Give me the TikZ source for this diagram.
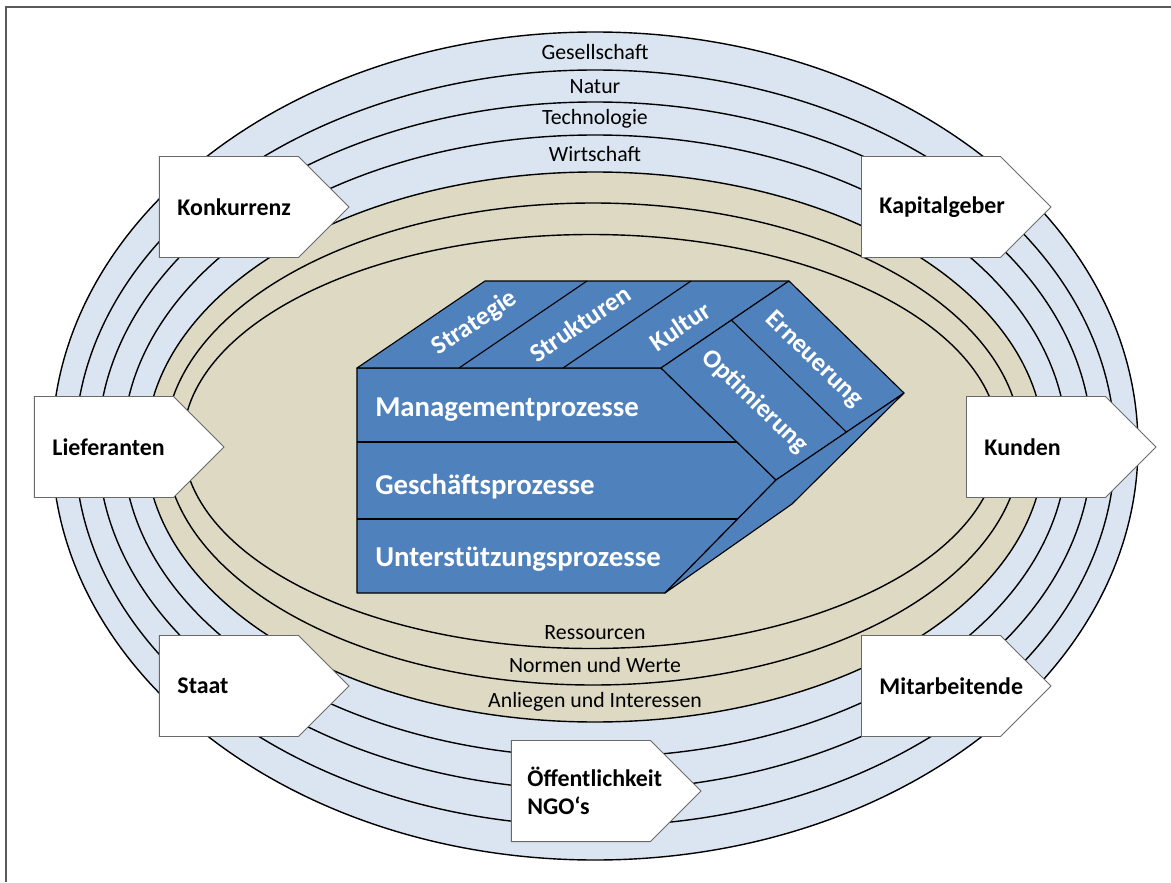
\PassOptionsToPackage{svgnames}{xcolor}
\documentclass[tikz,border=0pt]{standalone}
\usepackage{fontspec}
\setmainfont{Carlito}
\usepackage{tikz}
\usetikzlibrary{shapes.symbols}
\definecolor{RingBlue}{HTML}{DBE5F1}
\definecolor{RingTan}{HTML}{DDD9C3}
\definecolor{BlockBlue}{HTML}{4F81BD}
\definecolor{RimGrey}{HTML}{5A5A5A}
\pgfdeclarelayer{edgelayer}
\pgfdeclarelayer{nodelayer}
\pgfsetlayers{edgelayer,nodelayer,main}
\tikzstyle{none}=[inner sep=0pt]
\tikzstyle{bluering}=[fill=RingBlue,draw=Black,line width=1pt]
\tikzstyle{tanring}=[fill=RingTan,draw=Black,line width=1pt]
\tikzstyle{face}=[fill=BlockBlue,draw=Black,line width=0.8pt,line join=round]
\tikzstyle{simple}=[-,draw=Black,line width=0.8pt]
\tikzstyle{frame}=[-,draw=RimGrey,line width=1.4pt]
\tikzstyle{ringlabel}=[inner sep=0pt,text=Black,font=\fontsize{15.5}{18}\selectfont]
\tikzstyle{rowlabel}=[inner sep=0pt,anchor=west,text=White,font=\fontsize{20.5}{24}\selectfont\bfseries]
\tikzstyle{toplabel}=[inner sep=0pt,text=White,font=\fontsize{18.5}{22}\selectfont\bfseries]
\tikzstyle{actor}=[signal,signal to=east,signal pointer angle=90,fill=White,draw=DimGray,line width=0.7pt,minimum height=2.525cm,text width=2.575cm,inner xsep=0.45cm,inner ysep=0pt,align=left,anchor=west,font=\fontsize{17}{20}\selectfont\bfseries]

\begin{document}
\begin{tikzpicture}
	\useasboundingbox (-14.875,11.15) rectangle (14.4,-10.9);
	\begin{pgfonlayer}{nodelayer}
		\node [style=none] (0) at (-5.95, 1.95) {};
		\node [style=none] (1) at (1.65, 1.95) {};
		\node [style=none] (2) at (4.525, -0.85) {};
		\node [style=none] (3) at (1.75, -3.675) {};
		\node [style=none] (4) at (-5.95, -3.675) {};
		\node [style=none] (5) at (-2.75, 4.125) {};
		\node [style=none] (6) at (4.85, 4.125) {};
		\node [style=none] (7) at (7.725, 1.325) {};
		\node [style=none] (8) at (4.925, -1.45) {};
		\node [style=none] (9) at (-3.4, 1.95) {};
		\node [style=none] (10) at (-0.2, 4.125) {};
		\node [style=none] (11) at (-0.8, 1.95) {};
		\node [style=none] (12) at (2.4, 4.125) {};
		\node [style=none] (13) at (3.41, 3.146) {};
		\node [style=none] (14) at (6.285, 0.346) {};
		\node [style=none] (15) at (-5.95, 0.1) {};
		\node [style=none] (16) at (3.55, 0.1) {};
		\node [style=none] (17) at (-5.95, -1.825) {};
		\node [style=none] (18) at (3.567, -1.825) {};
		\node [style=none] (19) at (-14.725, -10.9) {};
		\node [style=none] (20) at (-14.725, 10.975) {};
		\node [style=none] (21) at (14.4, 10.975) {};
		\node [style=ringlabel] (22) at (0, 9.85) {Gesellschaft};
		\node [style=ringlabel] (23) at (0, 8.975) {Natur};
		\node [style=ringlabel] (24) at (0, 8.175) {Technologie};
		\node [style=ringlabel] (25) at (0, 7.3) {Wirtschaft};
		\node [style=ringlabel] (26) at (0, -4.675) {Ressourcen};
		\node [style=ringlabel] (27) at (0, -5.475) {Normen und Werte};
		\node [style=ringlabel] (28) at (0, -6.4) {Anliegen und Interessen};
		\node [style=rowlabel] (29) at (-5.5, 0.9) {Managementprozesse};
		\node [style=rowlabel] (30) at (-5.5, -1.02) {Geschäftsprozesse};
		\node [style=rowlabel] (31) at (-5.5, -2.83) {Unterstützungsprozesse};
		\node [style=toplabel, rotate=34] (32) at (-3.0, 3.07) {Strategie};
		\node [style=toplabel, rotate=34] (33) at (-0.375, 3.07) {Strukturen};
		\node [style=toplabel, rotate=34] (34) at (2.125, 3.0) {Kultur};
		\node [style=toplabel, rotate=-44] (35) at (4.0, 1.11) {Optimierung};
		\node [style=toplabel, rotate=-44] (36) at (5.475, 2.15) {Erneuerung};
		\node [style=actor] (37) at (-10.9, 5.975) {Konkurrenz};
		\node [style=actor] (38) at (6.65, 5.975) {Kapitalgeber};
		\node [style=actor] (39) at (-14.025, -0.025) {Lieferanten};
		\node [style=actor] (40) at (9.275, -0.025) {Kunden};
		\node [style=actor] (41) at (-10.9, -6.0) {Staat};
		\node [style=actor] (42) at (6.65, -6.0) {Mitarbeitende};
		\node [style=actor, inner xsep=0.4cm, text width=2.675cm] (43) at (-2.1, -8.625) {Öffentlichkeit\\NGO‘s};
	\end{pgfonlayer}
	\begin{pgfonlayer}{edgelayer}
		\draw [style=bluering] (0, 0) ellipse (13.575 and 10.35);
		\draw [style=bluering] (0, -0.05) ellipse (13 and 9.45);
		\draw [style=bluering] (0, 0) ellipse (12.425 and 8.6);
		\draw [style=bluering] (0, 0) ellipse (11.8 and 7.775);
		\draw [style=tanring] (0, -0.025) ellipse (11.225 and 6.875);
		\draw [style=tanring] (-0.05, 0.05) ellipse (10.7 and 6.025);
		\draw [style=tanring] (-0.1, 0.1125) ellipse (10.2 and 5.175);
		\draw [style=face] (0.center) -- (1.center) -- (2.center) -- (3.center) -- (4.center) -- cycle;
		\draw [style=face] (0.center) -- (5.center) -- (6.center) -- (1.center) -- cycle;
		\draw [style=face] (1.center) -- (6.center) -- (7.center) -- (2.center) -- cycle;
		\draw [style=face] (2.center) -- (7.center) -- (8.center) -- (3.center) -- cycle;
		\draw [style=simple] (9.center) to (10.center);
		\draw [style=simple] (11.center) to (12.center);
		\draw [style=simple] (13.center) to (14.center);
		\draw [style=simple] (15.center) to (16.center);
		\draw [style=simple] (17.center) to (18.center);
		\draw [style=frame] (19.center) to (20.center) to (21.center);
	\end{pgfonlayer}
\end{tikzpicture}
\end{document}
